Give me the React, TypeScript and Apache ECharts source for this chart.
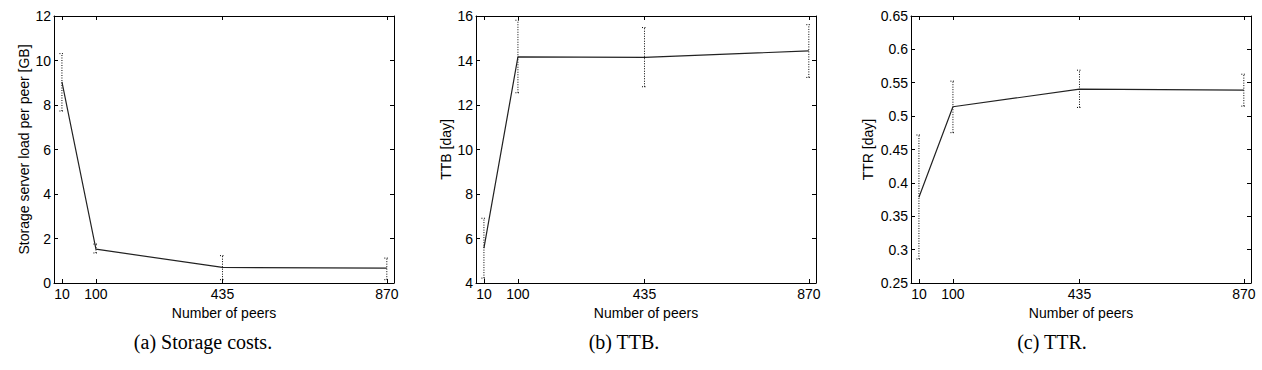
import React, { useEffect, useRef } from "react";
import * as echarts from "echarts";

const xTicks = [10, 100, 435, 870];

const storageMean = [9.04, 1.52, 0.7, 0.67];
const storageLow = [7.73, 1.35, 0.15, 0.15];
const storageHigh = [10.31, 1.75, 1.23, 1.12];

const ttbMean = [5.57, 14.16, 14.14, 14.43];
const ttbLow = [4.22, 12.55, 12.82, 13.24];
const ttbHigh = [6.91, 15.81, 15.48, 15.61];

const ttrMean = [0.3785, 0.514, 0.5404, 0.5389];
const ttrLow = [0.2859, 0.4752, 0.513, 0.515];
const ttrHigh = [0.4717, 0.5524, 0.5688, 0.5628];

const panels = [
  { yName: "Storage server load per peer [GB]", yMin: 0, yMax: 12, yInterval: 2, mean: storageMean, low: storageLow, high: storageHigh, caption: "(a) Storage costs.", left: 54, nameGap: 23, capX: 203 },
  { yName: "TTB [day]", yMin: 4, yMax: 16, yInterval: 2, mean: ttbMean, low: ttbLow, high: ttbHigh, caption: "(b) TTB.", left: 476, nameGap: 23, capX: 624 },
  { yName: "TTR [day]", yMin: 0.25, yMax: 0.65, yInterval: 0.05, mean: ttrMean, low: ttrLow, high: ttrHigh, caption: "(c) TTR.", left: 911, nameGap: 36, capX: 1052 },
];

const FONT = "Liberation Sans";

export default function App() {
  const ref = useRef<HTMLDivElement>(null);
  useEffect(() => {
    if (!ref.current) return;
    const chart = echarts.init(ref.current, null, { renderer: "svg" });
    const grid: any[] = [];
    const xAxis: any[] = [];
    const yAxis: any[] = [];
    const series: any[] = [];
    panels.forEach((p, i) => {
      grid.push({ left: p.left, top: 16, width: 340, height: 267 });
      const baseX = {
        type: "value",
        gridIndex: i,
        min: -11,
        max: 889,
        splitLine: { show: false },
        axisLine: { show: true, onZero: false, lineStyle: { color: "#000", width: 1 } },
      };
      xAxis.push({
        ...baseX,
        position: "bottom",
        name: "Number of peers",
        nameLocation: "middle",
        nameGap: 17,
        nameTextStyle: { fontFamily: FONT, fontSize: 14, color: "#000" },
        axisTick: { show: true, inside: true, length: 4, customValues: xTicks, lineStyle: { color: "#000" } },
        axisLabel: { customValues: xTicks, fontFamily: FONT, fontSize: 14, color: "#000", margin: 4 },
      });
      xAxis.push({
        ...baseX,
        position: "top",
        axisTick: { show: true, inside: true, length: 4, customValues: xTicks, lineStyle: { color: "#000" } },
        axisLabel: { show: false },
      });
      const baseY = {
        type: "value",
        gridIndex: i,
        min: p.yMin,
        max: p.yMax,
        interval: p.yInterval,
        splitLine: { show: false },
        axisLine: { show: true, onZero: false, lineStyle: { color: "#000", width: 1 } },
        axisTick: { show: true, inside: true, length: 4, lineStyle: { color: "#000" } },
      };
      yAxis.push({
        ...baseY,
        position: "left",
        name: p.yName,
        nameLocation: "middle",
        nameGap: p.nameGap,
        nameTextStyle: { fontFamily: FONT, fontSize: 14, color: "#000" },
        axisLabel: { fontFamily: FONT, fontSize: 14, color: "#000", margin: 3 },
      });
      yAxis.push({
        ...baseY,
        position: "right",
        axisLabel: { show: false },
      });
      series.push({
        type: "line",
        xAxisIndex: i * 2,
        yAxisIndex: i * 2,
        data: xTicks.map((x, k) => [x, p.mean[k]]),
        showSymbol: false,
        symbol: "none",
        lineStyle: { color: "#222", width: 1.2 },
      });
      series.push({
        type: "custom",
        xAxisIndex: i * 2,
        yAxisIndex: i * 2,
        data: xTicks.map((x, k) => [x, p.low[k], p.high[k]]),
        renderItem: (params: any, api: any) => {
          const lo = api.coord([api.value(0), api.value(1)]);
          const hi = api.coord([api.value(0), api.value(2)]);
          const style = { stroke: "#000", lineWidth: 1, lineDash: [1, 1.5], fill: null };
          const hw = 2.5;
          return {
            type: "group",
            children: [
              { type: "line", shape: { x1: lo[0], y1: lo[1], x2: hi[0], y2: hi[1] }, style },
              { type: "line", shape: { x1: lo[0] - hw, y1: lo[1], x2: lo[0] + hw, y2: lo[1] }, style },
              { type: "line", shape: { x1: hi[0] - hw, y1: hi[1], x2: hi[0] + hw, y2: hi[1] }, style },
            ],
          };
        },
      });
    });
    chart.setOption({
      animation: false,
      backgroundColor: "#fff",
      grid,
      xAxis,
      yAxis,
      series,
      graphic: panels.map((p) => ({
        type: "text",
        x: p.capX,
        y: 342,
        style: {
          text: p.caption,
          fontFamily: "Liberation Serif",
          fontSize: 20,
          fill: "#000",
          textAlign: "center",
          textVerticalAlign: "middle",
        },
      })),
    });
    return () => chart.dispose();
  }, []);
  return <div ref={ref} style={{ position: "absolute", left: 0, top: 0, width: 1262, height: 370 }} />;
}
